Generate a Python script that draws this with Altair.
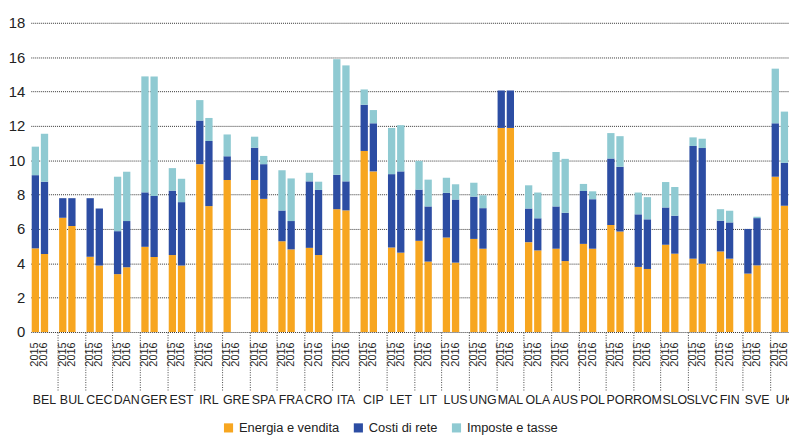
import altair as alt
import pandas as pd

countries = ["BEL", "BUL", "CEC", "DAN", "GER", "EST", "IRL", "GRE", "SPA", "FRA",
             "CRO", "ITA", "CIP", "LET", "LIT", "LUS", "UNG", "MAL", "OLA", "AUS",
             "POL", "POR", "ROM", "SLO", "SLVC", "FIN", "SVE", "UK"]
years = ["2015", "2016"]
components = ["Energia e vendita", "Costi di rete", "Imposte e tasse"]
colors = ["#F7A620", "#2C4DA3", "#8FCAD2"]

energia_2015 = [4.87, 6.65, 4.38, 3.37, 4.96, 4.48, 9.77, 8.85, 8.85, 5.29,
                4.90, 7.15, 10.54, 4.92, 5.31, 5.50, 5.42, 11.88, 5.23, 4.85,
                5.13, 6.23, 3.79, 5.08, 4.27, 4.69, 3.40, 9.04]
rete_2015 = [4.26, 1.14, 3.41, 2.50, 3.17, 3.75, 2.54, 1.38, 1.88, 1.79,
             3.87, 2.00, 2.69, 4.27, 2.98, 2.60, 2.46, 2.18, 1.96, 2.46,
             3.08, 3.87, 3.06, 2.17, 6.56, 1.79, 2.60, 3.11]
imposte_2015 = [1.66, 0.0, 0.0, 3.17, 6.75, 1.31, 1.19, 1.27, 0.64, 2.34,
                0.50, 6.73, 0.89, 2.69, 1.67, 0.88, 0.81, 0.0, 1.35, 3.17,
                0.41, 1.48, 1.27, 1.48, 0.50, 0.67, 0.0, 3.18]

energia_2016 = [4.54, 6.17, 3.87, 3.77, 4.37, 3.87, 7.33, None, 7.75, 4.81,
                4.48, 7.08, 9.35, 4.62, 4.10, 4.04, 4.85, 11.88, 4.75, 4.13,
                4.85, 5.85, 3.67, 4.56, 3.98, 4.27, 3.88, 7.35]
rete_2016 = [4.21, 1.62, 3.32, 2.69, 3.55, 3.69, 3.79, None, 2.02, 1.65,
             3.79, 1.69, 2.80, 4.73, 3.21, 3.67, 2.36, 2.18, 1.87, 2.81,
             2.88, 3.77, 2.89, 2.21, 6.73, 2.11, 2.75, 2.50]
imposte_2016 = [2.79, 0.0, 0.0, 2.87, 6.96, 1.36, 1.34, None, 0.48, 2.48,
                0.48, 6.75, 0.77, 2.69, 1.56, 0.89, 0.75, 0.0, 1.50, 3.14,
                0.46, 1.78, 1.29, 1.67, 0.54, 0.68, 0.08, 2.98]

series = {
    "2015": (energia_2015, rete_2015, imposte_2015),
    "2016": (energia_2016, rete_2016, imposte_2016),
}

rows = []
for i, c in enumerate(countries):
    for y in years:
        trio = series[y]
        if trio[0][i] is None:
            continue
        for k, comp in enumerate(components):
            rows.append({"slot": f"{c}|{y}", "country": c, "year": y,
                         "component": comp, "order": k, "value": trio[k][i]})
df = pd.DataFrame(rows)

slots = []
for c in countries:
    slots += [f"{c}|2015", f"{c}|2016", f"{c}|"]

FONT = "Liberation Sans, Arial, sans-serif"

xscale = alt.Scale(domain=slots, range=[0, 774.2], paddingInner=0, paddingOuter=0)

bars = alt.Chart(df).mark_bar(width=alt.RelativeBandSize(0.8)).encode(
    x=alt.X("slot:N", scale=xscale, title=None,
            axis=alt.Axis(orient="bottom",
                          values=[f"{c}|{y}" for c in countries for y in years],
                          labelExpr="split(datum.value, '|')[1]",
                          labelAngle=270, labelPadding=10, ticks=False, domain=False,
                          grid=False, labelFontSize=11, labelOverlap=False,
                          labelBound=False)),
    y=alt.Y("value:Q", stack="zero", title=None,
            scale=alt.Scale(domain=[0, 18], nice=False),
            axis=alt.Axis(values=list(range(0, 19, 2)), grid=True, gridDash=[1, 1],
                          gridColor="#333333", gridWidth=1, domain=False, ticks=False,
                          labelFontSize=15, labelPadding=6)),
    color=alt.Color("component:N", scale=alt.Scale(domain=components, range=colors),
                    legend=alt.Legend(orient="none", legendX=193, legendY=402,
                                      direction="horizontal", title=None,
                                      symbolType="square", symbolSize=85,
                                      symbolStrokeWidth=0, labelFontSize=13,
                                      columnPadding=12, labelOffset=4)),
    order=alt.Order("order:Q"),
)

country_axis = alt.Chart(df).mark_rule(opacity=0).encode(
    x=alt.X("slot:N", scale=xscale, title=None,
            axis=alt.Axis(orient="bottom", values=[f"{c}|2016" for c in countries],
                          labelExpr="split(datum.value, '|')[0]", labelAngle=0,
                          labelAlign="center", labelBaseline="top", labelPadding=62,
                          ticks=False, domain=False, grid=False, labelFontSize=12.5,
                          labelOverlap=False, labelBound=False)),
)

sep_axis = alt.Chart(df).mark_rule(opacity=0).encode(
    x=alt.X("slot:N", scale=xscale, title=None,
            axis=alt.Axis(orient="bottom", values=[f"{c}|" for c in countries],
                          bandPosition=1, labels=False, ticks=True, tickSize=60,
                          tickDash=[1, 1.5], tickColor="#444444", domain=False,
                          grid=False)),
)

chart = alt.layer(bars, country_axis, sep_axis).resolve_axis(
    x="independent"
).properties(
    width=765, height=312,
    autosize=alt.AutoSizeParams(type="none"),
    padding={"left": 23, "top": 13, "right": 0, "bottom": 104},
).configure_view(stroke=None).configure_axis(
    labelFont=FONT, labelColor="#222222"
).configure_legend(labelFont=FONT, labelColor="#222222")

chart.save("out.html", embed_options={"renderer": "svg", "actions": False})
